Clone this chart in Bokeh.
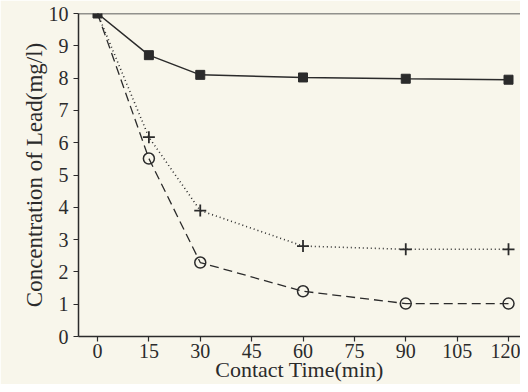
from bokeh.plotting import figure
from bokeh.models import Span, FixedTicker
from bokeh.embed import file_html
from bokeh.resources import INLINE

time_min = [0, 15, 30, 60, 90, 120]
series_square = [10.0, 8.71, 8.1, 8.02, 7.98, 7.95]
series_plus = [10.0, 6.17, 3.9, 2.8, 2.7, 2.7]
series_circle = [10.0, 5.51, 2.29, 1.4, 1.02, 1.02]
x_ticks = [0, 15, 30, 45, 60, 75, 90, 105, 120]
y_ticks = [0, 1, 2, 3, 4, 5, 6, 7, 8, 9, 10]

BG = "#f8f6eb"
INK = "#2b2b2b"
FONT = "Liberation Serif"

p = figure(width=520, height=384, output_backend="svg", toolbar_location=None,
           x_range=(-5.55, 123.5), y_range=(0, 10),
           min_border_left=78, min_border_right=0, min_border_top=13, min_border_bottom=45)
p.background_fill_color = BG
p.border_fill_color = BG
p.outline_line_color = None
p.grid.visible = False

p.add_layout(Span(location=10, dimension="width", line_color=INK, line_width=1.5))

p.line(time_min, series_square, line_color=INK, line_width=1.5)
p.scatter(time_min, series_square, marker="square", size=9, fill_color=INK, line_color=INK)

p.line(time_min, series_plus, line_color=INK, line_width=1.6, line_dash="1 3")
p.scatter(time_min[1:], series_plus[1:], marker="cross", size=12, line_color=INK, line_width=1.8)

p.line(time_min, series_circle, line_color=INK, line_width=1.3, line_dash="9 5")
p.scatter(time_min[1:], series_circle[1:], marker="circle", size=11, fill_color=None, line_color=INK, line_width=1.5)

for ax in (p.xaxis[0], p.yaxis[0]):
    ax.axis_line_color = INK
    ax.axis_line_width = 1.5
    ax.major_tick_line_color = INK
    ax.major_tick_line_width = 1.2
    ax.major_tick_in = 0
    ax.major_tick_out = 5
    ax.minor_tick_line_color = None
    ax.major_label_text_font = FONT
    ax.major_label_text_font_size = "20px"
    ax.major_label_text_color = INK
    ax.axis_label_text_font = FONT
    ax.axis_label_text_font_style = "normal"
    ax.axis_label_text_color = INK

p.xaxis[0].axis_label_text_font_size = "22px"
p.yaxis[0].axis_label_text_font_size = "23px"
p.xaxis[0].ticker = FixedTicker(ticks=x_ticks)
p.yaxis[0].ticker = FixedTicker(ticks=y_ticks)
p.xaxis[0].axis_label = "Contact Time(min)"
p.yaxis[0].axis_label = "Concentration of Lead(mg/l)"
p.xaxis[0].major_label_standoff = 2
p.yaxis[0].major_label_standoff = 5
p.xaxis[0].axis_label_standoff = -4
p.yaxis[0].axis_label_standoff = -1

open("out.html", "w").write(file_html(p, INLINE))
